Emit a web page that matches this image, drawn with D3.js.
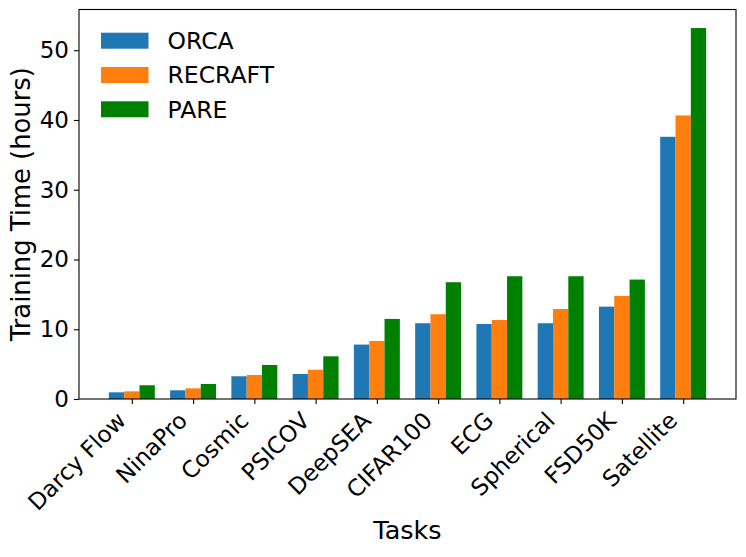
<!DOCTYPE html>
<html>
<head>
<meta charset="utf-8">
<script src="https://cdnjs.cloudflare.com/ajax/libs/d3/7.8.5/d3.min.js"></script>
<style>
  body { margin: 0; background: #fff; }
  text { font-family: "DejaVu Sans", sans-serif; fill: #000; }
</style>
</head>
<body>
<script>
var tasks = ['Darcy Flow', 'NinaPro', 'Cosmic', 'PSICOV', 'DeepSEA', 'CIFAR100', 'ECG', 'Spherical', 'FSD50K', 'Satellite'];
var orca = [0.96, 1.25, 3.26, 3.59, 7.8, 10.86, 10.76, 10.86, 13.24, 37.59];
var recraft = [1.1, 1.53, 3.44, 4.2, 8.32, 12.15, 11.33, 12.9, 14.78, 40.65];
var pare = [1.97, 2.15, 4.88, 6.12, 11.48, 16.74, 17.6, 17.6, 17.12, 53.18];
var seriesNames = ['ORCA', 'RECRAFT', 'PARE'];
var seriesColors = ['#1f77b4', '#ff7f0e', '#008000'];
var yTicks = [0, 10, 20, 30, 40, 50];

var series = [orca, recraft, pare];
var width = 746, height = 557;
var plotLeft = 79, plotRight = 736, plotTop = 9.5, plotBottom = 399;
var barW = 0.25;

var svg = d3.select('body')
  .append('svg')
  .attr('width', width)
  .attr('height', height);

var x = d3.scaleLinear()
  .domain([-0.8625, tasks.length - 1 + 0.8625])
  .range([plotLeft, plotRight]);

var yMax = d3.max(pare) * 1.05;
var y = d3.scaleLinear()
  .domain([0, yMax])
  .range([plotBottom, plotTop]);

// bars
series.forEach(function(vals, s) {
  svg.append('g')
    .attr('fill', seriesColors[s])
    .selectAll('rect')
    .data(vals)
    .enter()
    .append('rect')
    .attr('x', function(d, i) { return x(i + (s - 1) * barW - barW / 2); })
    .attr('width', function() { return x(barW) - x(0); })
    .attr('y', function(d) { return y(d); })
    .attr('height', function(d) { return y(0) - y(d); });
});

// y axis
var yAxis = svg.append('g')
  .attr('transform', 'translate(' + plotLeft + ',0)')
  .call(d3.axisLeft(y).tickValues(yTicks).tickSize(5).tickPadding(5));
yAxis.select('.domain').remove();
yAxis.selectAll('line').attr('stroke', '#000').attr('stroke-width', 1.1);
yAxis.selectAll('text')
  .style('font-size', '23px')
  .style('font-family', '"DejaVu Sans", sans-serif')
  .attr('fill', '#000');

// x axis
var xAxis = svg.append('g')
  .attr('transform', 'translate(0,' + plotBottom + ')')
  .call(d3.axisBottom(x).tickValues(d3.range(tasks.length))
    .tickFormat(function(i) { return tasks[i]; })
    .tickSize(5));
xAxis.select('.domain').remove();
xAxis.selectAll('line').attr('stroke', '#000').attr('stroke-width', 1.1);
xAxis.selectAll('text')
  .style('font-size', '23px')
  .style('font-family', '"DejaVu Sans", sans-serif')
  .attr('fill', '#000')
  .attr('text-anchor', 'end')
  .attr('dy', null)
  .attr('y', null)
  .attr('transform', 'translate(-5,23) rotate(-45)');

// frame
svg.append('rect')
  .attr('x', plotLeft)
  .attr('y', plotTop)
  .attr('width', plotRight - plotLeft)
  .attr('height', plotBottom - plotTop)
  .attr('fill', 'none')
  .attr('stroke', '#000')
  .attr('stroke-width', 1.1);

// axis labels
svg.append('text')
  .attr('x', (plotLeft + plotRight) / 2)
  .attr('y', 539)
  .attr('text-anchor', 'middle')
  .style('font-size', '25.5px')
  .text('Tasks');

svg.append('text')
  .attr('transform', 'translate(30,' + (plotTop + plotBottom) / 2 + ') rotate(-90)')
  .attr('text-anchor', 'middle')
  .style('font-size', '25.8px')
  .text('Training Time (hours)');

// legend
var legend = svg.append('g')
  .selectAll('g')
  .data(seriesNames)
  .enter()
  .append('g')
  .attr('transform', function(d, i) { return 'translate(101,' + (40.7 + i * 34.3) + ')'; });
legend.append('rect')
  .attr('x', 0)
  .attr('y', -8)
  .attr('width', 47.5)
  .attr('height', 16)
  .attr('fill', function(d, i) { return seriesColors[i]; });
legend.append('text')
  .attr('x', 66.5)
  .attr('y', 8.3)
  .style('font-size', '23.5px')
  .text(function(d) { return d; });
</script>
</body>
</html>
